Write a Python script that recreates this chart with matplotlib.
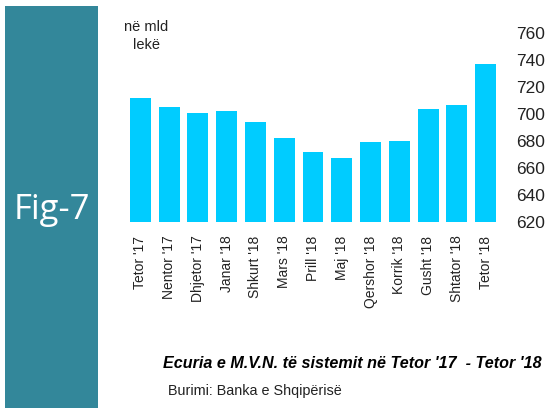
import matplotlib.pyplot as plt
from matplotlib.patches import Rectangle

months = ["Tetor '17", "Nentor '17", "Dhjetor '17", "Janar '18", "Shkurt '18",
          "Mars '18", "Prill '18", "Maj '18", "Qershor '18", "Korrik '18",
          "Gusht '18", "Shtator '18", "Tetor '18"]
values = [712, 705, 701, 702, 694, 682, 672, 667, 679, 680, 704, 707, 737]
yticks = [620, 640, 660, 680, 700, 720, 740, 760]

plt.rcParams['font.family'] = ['Liberation Sans', 'DejaVu Sans']

fig = plt.figure(figsize=(5.52, 4.08), dpi=100)

# teal side panel
fig.patches.append(Rectangle((5 / 552, 0), 93 / 552, 402 / 408, transform=fig.transFigure,
                             facecolor='#33879a', edgecolor='none'))
fig.text(51.5 / 552, 1 - 210 / 408, "Fig-7", color='white', fontsize=25,
         family=['Open Sans', 'DejaVu Sans'], ha='center', va='center')

ax = fig.add_axes([126.1 / 552, 1 - 221.7 / 408, 373.8 / 552, 188.4 / 408])
x = list(range(len(months)))
ax.bar(x, [v - 620 for v in values], bottom=620, width=0.73, color='#00ccff')
ax.set_xlim(-0.5, 12.5)
ax.set_ylim(620, 760)
ax.set_yticks(yticks)
ax.yaxis.tick_right()
ax.tick_params(axis='y', length=0, pad=12, labelsize=12.5, colors='#222222')
ax.set_xticks(x)
ax.set_xticklabels(months, rotation=90, fontsize=10)
ax.tick_params(axis='x', length=0, pad=10, colors='#222222')
for s in ax.spines.values():
    s.set_visible(False)

fig.text(146 / 552, 1 - 36 / 408, "në mld\nlekë", fontsize=10.5, color='#222222',
         ha='center', va='center', linespacing=1.3)

fig.text(542 / 552, 1 - 363 / 408, "Ecuria e M.V.N. të sistemit në Tetor '17  - Tetor '18",
         fontsize=11.6, fontweight='bold', fontstyle='italic', ha='right', va='center')
fig.text(168 / 552, 1 - 391 / 408, "Burimi: Banka e Shqipërisë", fontsize=10.4,
         color='#222222', ha='left', va='center')

fig.savefig('out.png', dpi=100)
